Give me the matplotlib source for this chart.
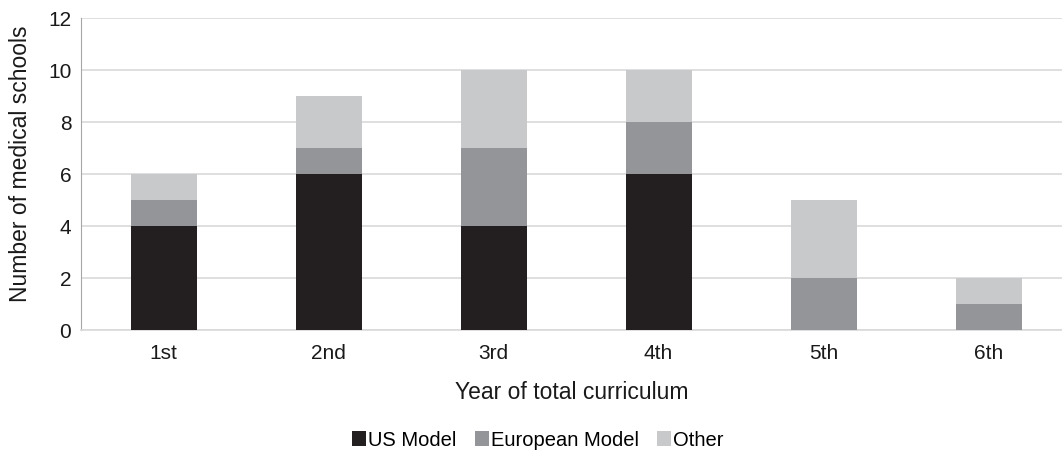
import matplotlib
matplotlib.use("Agg")
import matplotlib.pyplot as plt
import numpy as np

plt.rcParams['font.family'] = ['Liberation Sans', 'DejaVu Sans']

categories = ["1st", "2nd", "3rd", "4th", "5th", "6th"]
us_model = [4, 6, 4, 6, 0, 0]
european_model = [1, 1, 3, 2, 2, 1]
other = [1, 2, 3, 2, 3, 1]

colors = ["#231f20", "#939598", "#c8c9cb"]

fig = plt.figure(figsize=(10.62, 4.62), dpi=100)
ax = fig.add_axes([81/1062, 132/462, 1 - 81/1062, (330-18)/462])

x = np.arange(len(categories))
w = 0.4
us = np.array(us_model)
eu = np.array(european_model)
ot = np.array(other)
ax.bar(x, us, w, color=colors[0], label="US Model", zorder=3)
ax.bar(x, eu, w, bottom=us, color=colors[1], label="European Model", zorder=3)
ax.bar(x, ot, w, bottom=us+eu, color=colors[2], label="Other", zorder=3)

ax.set_xlim(-0.5, -0.5 + (1062-81)/165)
ax.set_ylim(0, 12)
ax.set_yticks(range(0, 13, 2))
ax.set_xticks(x)
ax.set_xticklabels(categories)
ax.yaxis.grid(True, color="#d9d9d9", linewidth=1.2, zorder=0)
ax.set_axisbelow(True)
for s in ["top", "right"]:
    ax.spines[s].set_visible(False)
ax.spines["left"].set_color("#a6a6a6")
ax.spines["bottom"].set_color("#d9d9d9")
ax.spines["bottom"].set_linewidth(1.2)
ax.tick_params(axis="both", length=0, labelsize=15, colors="#1a1a1a", pad=7)
ax.tick_params(axis="x", pad=10)

ax.set_xlabel("Year of total curriculum", fontsize=16.5, labelpad=13, color="#1a1a1a")
ax.set_ylabel("Number of medical schools", fontsize=16.5, color="#1a1a1a")
ax.yaxis.set_label_coords(-0.050, 0.532)

fig.legend(loc="center", bbox_to_anchor=(538/1062, 1 - 440/462), ncol=3, frameon=False,
           fontsize=14.5, handlelength=0.7, handleheight=0.7, handletextpad=0.1,
           columnspacing=0.9)

fig.savefig("out.png", dpi=100)
